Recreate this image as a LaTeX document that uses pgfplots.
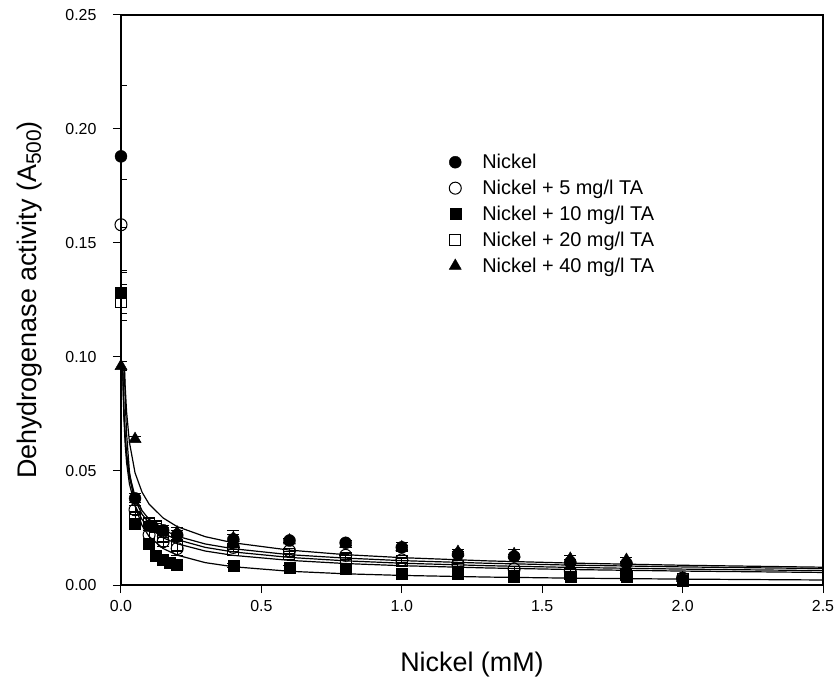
\documentclass[border=0pt]{standalone}
\usepackage{fontspec}
\setmainfont{Liberation Sans}
\usepackage{pgfplots}
\pgfplotsset{compat=1.18}
\usetikzlibrary{calc}

\pgfplotstableread{
x y e
0 0.188 0.031
0.05 0.038 0.002
0.1 0.026 0.002
0.15 0.024 0.002
0.2 0.022 0.002
0.4 0.020 0.002
0.6 0.0195 0.001
0.8 0.0185 0.001
1.0 0.0165 0.001
1.2 0.0135 0.001
1.4 0.0125 0.001
1.6 0.010 0.001
1.8 0.0095 0.001
2.0 0.0025 0.001
}\nickel

\pgfplotstableread{
x y e
0 0.158 0.020
0.05 0.033 0.002
0.1 0.022 0.002
0.15 0.019 0.002
0.2 0.016 0.003
0.4 0.0165 0.001
0.6 0.015 0.001
0.8 0.013 0.001
1.0 0.011 0.001
1.2 0.009 0.001
1.4 0.007 0.001
1.6 0.006 0.001
1.8 0.005 0.001
2.0 0.003 0.001
}\tafive

\pgfplotstableread{
x y e
0 0.128 0.009
0.05 0.027 0.002
0.1 0.018 0.002
0.125 0.013 0.001
0.15 0.011 0.001
0.175 0.010 0.001
0.2 0.009 0.001
0.4 0.0085 0.001
0.6 0.0075 0.001
0.8 0.007 0.001
1.0 0.005 0.001
1.2 0.005 0.001
1.4 0.0035 0.001
1.6 0.0035 0.001
1.8 0.0035 0.001
2.0 0.002 0.001
}\taten

\pgfplotstableread{
x y e
0 0.124 0.008
0.05 0.030 0.002
0.1 0.027 0.002
0.125 0.026 0.002
0.15 0.021 0.002
0.2 0.017 0.002
0.4 0.0155 0.001
0.6 0.0135 0.001
0.8 0.012 0.001
1.0 0.0105 0.001
1.2 0.0085 0.001
1.4 0.0055 0.001
1.6 0.005 0.001
1.8 0.0045 0.001
2.0 0.0025 0.001
}\tatwenty

\pgfplotstableread{
x y e
0 0.096 0.002
0.05 0.064 0.001
0.1 0.026 0.002
0.125 0.025 0.002
0.15 0.023 0.002
0.2 0.023 0.002
0.4 0.0205 0.0035
0.6 0.0195 0.001
0.8 0.018 0.0015
1.0 0.0165 0.002
1.2 0.0145 0.001
1.4 0.0135 0.002
1.6 0.0115 0.0015
1.8 0.011 0.0012
2.0 0.003 0.001
}\taforty

\begin{document}
\begin{tikzpicture}
\begin{axis}[
  scale only axis, width=702bp, height=570bp,
  xmin=0, xmax=2.5, ymin=0, ymax=0.25,
  xtick={0,0.5,1.0,1.5,2.0,2.5},
  ytick={0,0.05,0.10,0.15,0.20,0.25},
  /pgf/number format/assume math mode=true,
  xticklabel style={yshift=-4bp, font=\fontsize{16}{19}\selectfont,
     /pgf/number format/fixed, /pgf/number format/fixed zerofill, /pgf/number format/precision=1},
  yticklabel style={xshift=-13bp, font=\fontsize{16}{19}\selectfont,
     /pgf/number format/fixed, /pgf/number format/fixed zerofill, /pgf/number format/precision=2},
  tick align=outside, xtick pos=bottom, ytick pos=left,
  major tick length=8bp,
  tick style={black, line width=1bp},
  axis line style={line width=1.3bp},
  every axis y label/.style={at={(axis description cs:-0.130,0.5)}, rotate=90, anchor=center,
     font=\fontsize{27}{32}\selectfont},
  every axis x label/.style={at={(axis description cs:0.5,-0.140)}, anchor=center,
     font=\fontsize{27}{32}\selectfont},
  xlabel={Nickel (mM)},
  ylabel={Dehydrogenase activity (A\raisebox{-0.3ex}{\fontsize{21}{24}\selectfont 500})},
  legend style={draw=none, fill=none, at={(0.463,0.763)}, anchor=north west,
    font=\fontsize{20}{23}\selectfont, row sep=6bp,
    /tikz/every odd column/.append style={column sep=19bp}},
  legend cell align=left,
  clip=true,
]
% fitted curves
\addplot[black, line width=1.2bp, forget plot] coordinates {
(0.0124,0.095) (0.015,0.0868) (0.02,0.0758) (0.03,0.0626) (0.05,0.0492) (0.075,0.0407)
(0.1,0.0355) (0.15,0.0294) (0.2,0.0256) (0.3,0.0212) (0.4,0.0185) (0.6,0.0153)
(0.8,0.0133) (1.0,0.0120) (1.3,0.0106) (1.6,0.00962) (2.0,0.00866) (2.5,0.0078)};
\addplot[black, line width=1.2bp, forget plot] coordinates {
(0.0063,0.095) (0.01,0.0778) (0.015,0.0653) (0.02,0.0577) (0.03,0.0485) (0.05,0.0389)
(0.075,0.0326) (0.1,0.0288) (0.15,0.0242) (0.2,0.0214) (0.3,0.0180) (0.4,0.0159)
(0.6,0.0133) (0.8,0.0118) (1.0,0.01069) (1.3,0.00955) (1.6,0.00873) (2.0,0.00793) (2.5,0.0072)};
\addplot[black, line width=1.2bp, forget plot] coordinates {
(0.0064,0.095) (0.01,0.0775) (0.015,0.0645) (0.02,0.0566) (0.03,0.0471) (0.05,0.0373)
(0.075,0.0310) (0.1,0.0272) (0.15,0.0226) (0.2,0.0199) (0.3,0.0165) (0.4,0.0145)
(0.6,0.0121) (0.8,0.0106) (1.0,0.00956) (1.3,0.00848) (1.6,0.00772) (2.0,0.00697) (2.5,0.0063)};
\addplot[black, line width=1.2bp, forget plot] coordinates {
(0.006,0.095) (0.01,0.0743) (0.015,0.0614) (0.02,0.0536) (0.03,0.0443) (0.05,0.0348)
(0.075,0.0287) (0.1,0.0251) (0.15,0.0207) (0.2,0.0181) (0.3,0.0149) (0.4,0.0130)
(0.6,0.0108) (0.8,0.00941) (1.0,0.00847) (1.3,0.00749) (1.6,0.00679) (2.0,0.00611) (2.5,0.0055)};
\addplot[black, line width=1.2bp, forget plot] coordinates {
(0.012,0.095) (0.015,0.0811) (0.02,0.0662) (0.03,0.0498) (0.05,0.0347) (0.075,0.0261)
(0.1,0.0213) (0.15,0.0160) (0.2,0.0131) (0.3,0.00981) (0.4,0.00801) (0.6,0.00602)
(0.8,0.00491) (1.0,0.00420) (1.3,0.00349) (1.6,0.00301) (2.0,0.00258) (2.5,0.0022)};

\pgfplotsset{ebar/.style={error bars/.cd, y dir=both, y explicit,
   error bar style={line width=1bp, black},
   error mark options={rotate=90, mark size=6bp, line width=1bp, black}}}

\addplot[black, only marks, mark=*, mark size=6bp, mark options={fill=black}, ebar]
  table[x=x, y=y, y error=e] {\nickel};
\addlegendentry{Nickel}
\addplot[black, only marks, mark=o, mark size=6bp, mark options={fill=white, line width=1bp}, ebar]
  table[x=x, y=y, y error=e] {\tafive};
\addlegendentry{Nickel + 5 mg/l TA}
\addplot[black, only marks, mark=square*, mark size=5.5bp, mark options={fill=black}, ebar]
  table[x=x, y=y, y error=e] {\taten};
\addlegendentry{Nickel + 10 mg/l TA}
\addplot[black, only marks, mark=square, mark size=5.5bp, mark options={fill=white, line width=1bp}, ebar]
  table[x=x, y=y, y error=e] {\tatwenty};
\addlegendentry{Nickel + 20 mg/l TA}
\addplot[black, only marks, mark=triangle*, mark size=7bp, mark options={fill=black}, ebar]
  table[x=x, y=y, y error=e] {\taforty};
\addlegendentry{Nickel + 40 mg/l TA}
\end{axis}
\path[use as bounding box] ($(current axis.south west)+(-121bp,-105bp)$) rectangle ($(current axis.north east)+(17bp,15bp)$);
\end{tikzpicture}
\end{document}
